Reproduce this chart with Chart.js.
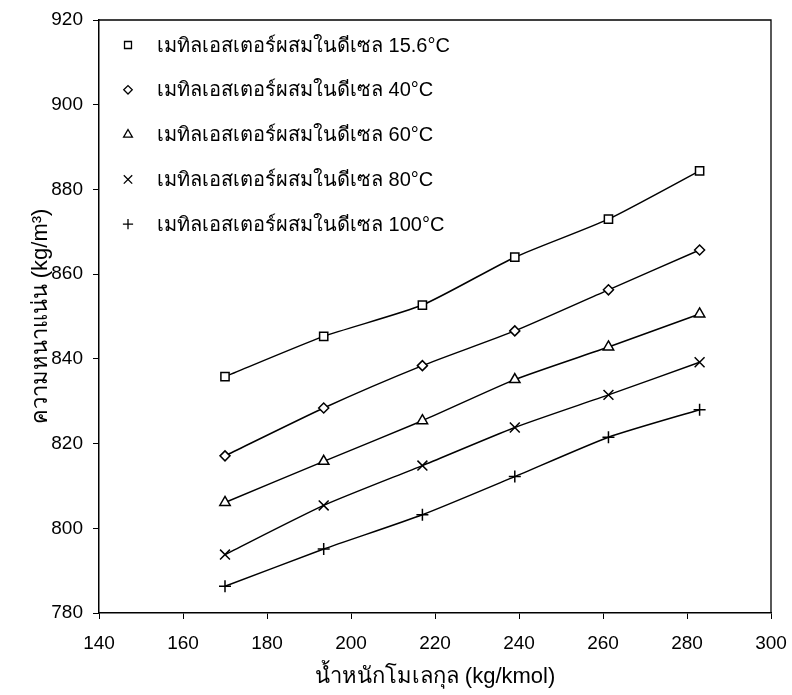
<!DOCTYPE html>
<html>
<head>
<meta charset="utf-8">
<script src="https://cdn.jsdelivr.net/npm/chart.js@4.4.1/dist/chart.umd.min.js"></script>
<style>
html,body{margin:0;padding:0;background:#fff;}
#wrap{width:792px;height:695px;}
</style>
</head>
<body>
<div id="wrap"><canvas id="c" width="792" height="695"></canvas></div>
<script>
const molWeight = [170, 193.5, 217, 239, 261.3, 283];
const density15_6 = [835.8, 845.3, 852.7, 864.0, 873.0, 884.4];
const density40 = [817.1, 828.4, 838.4, 846.6, 856.3, 865.7];
const density60 = [806.1, 815.8, 825.4, 835.1, 842.8, 850.6];
const density80 = [793.8, 805.4, 814.8, 823.8, 831.5, 839.2];
const density100 = [786.3, 795.1, 803.2, 812.2, 821.5, 828.0];
const seriesLabels = [
  'เมทิลเอสเตอร์ผสมในดีเซล 15.6°C',
  'เมทิลเอสเตอร์ผสมในดีเซล 40°C',
  'เมทิลเอสเตอร์ผสมในดีเซล 60°C',
  'เมทิลเอสเตอร์ผสมในดีเซล 80°C',
  'เมทิลเอสเตอร์ผสมในดีเซล 100°C'
];
const xTitle = 'น้ำหนักโมเลกุล (kg/kmol)';
const yTitle = 'ความหนาแน่น (kg/m³)';

const FONT = "'Liberation Sans', Arial, 'Noto Sans', sans-serif";
const styles = [
  {ps:'rect', r:5.8},
  {ps:'rectRot', r:5},
  {ps:'triangle', r:6},
  {ps:'crossRot', r:7},
  {ps:'cross', r:6}
];
const seriesData = [density15_6, density40, density60, density80, density100];

const datasets = seriesData.map((arr, i) => ({
  label: seriesLabels[i],
  data: arr.map((v, j) => ({x: molWeight[j], y: v})),
  showLine: true,
  borderColor: '#000',
  borderWidth: 1.5,
  tension: 0.2,
  pointStyle: styles[i].ps,
  pointRadius: styles[i].r,
  pointBorderColor: '#000',
  pointBackgroundColor: '#fff',
  pointBorderWidth: 1.5
}));

const frame = {
  id: 'frame',
  afterDraw(chart) {
    const {ctx, chartArea: a} = chart;
    ctx.save();
    ctx.strokeStyle = '#000';
    ctx.lineWidth = 1.3;
    ctx.beginPath();
    ctx.moveTo(a.left, a.top);
    ctx.lineTo(a.right, a.top);
    ctx.lineTo(a.right, a.bottom);
    ctx.stroke();
    // legend
    const lx = 128, tx = 157, y0 = 45, dy = 44.8;
    ctx.font = '20px ' + FONT;
    ctx.textBaseline = 'middle';
    ctx.textAlign = 'left';
    chart.data.datasets.forEach((d, i) => {
      const y = y0 + i * dy;
      const opts = {pointStyle: d.pointStyle, radius: d.pointRadius * 0.85, rotation: 0, borderWidth: 1.3};
      ctx.strokeStyle = '#000';
      ctx.fillStyle = '#fff';
      ctx.lineWidth = 1.3;
      Chart.helpers.drawPoint(ctx, opts, lx, y);
      ctx.fillStyle = '#000';
      ctx.fillText(d.label, tx, y + 1);
    });
    ctx.restore();
  }
};

new Chart(document.getElementById('c'), {
  type: 'scatter',
  data: {datasets},
  options: {
    responsive: false,
    animation: false,
    devicePixelRatio: 1,
    layout: {padding: {top: 20, right: 21, left: 0, bottom: 0}},
    plugins: {legend: {display: false}, tooltip: {enabled: false}},
    scales: {
      x: {
        type: 'linear', min: 140, max: 300,
        ticks: {stepSize: 20, color: '#000', font: {family: FONT, size: 19}, padding: 13, maxRotation: 0},
        grid: {display: true, drawOnChartArea: false, drawTicks: true, tickLength: 6, color: '#000', lineWidth: 1},
        border: {display: true, color: '#000', width: 1.5},
        title: {display: true, text: xTitle, color: '#000', font: {family: FONT, size: 22}, padding: {top: 4, bottom: 5}},
        afterFit(s) { s.height = 82; s.paddingRight = 0; s.paddingLeft = 0; }
      },
      y: {
        type: 'linear', min: 780, max: 920,
        ticks: {stepSize: 20, color: '#000', font: {family: FONT, size: 19}, padding: 10},
        grid: {display: true, drawOnChartArea: false, drawTicks: true, tickLength: 6, color: '#000', lineWidth: 1},
        border: {display: true, color: '#000', width: 1.5},
        title: {display: true, text: yTitle, color: '#000', font: {family: FONT, size: 22}, padding: {top: 28, bottom: 4}},
        afterFit(s) { s.width = 99; s.paddingTop = 0; s.paddingBottom = 0; }
      }
    }
  },
  plugins: [frame]
});
</script>
</body>
</html>
